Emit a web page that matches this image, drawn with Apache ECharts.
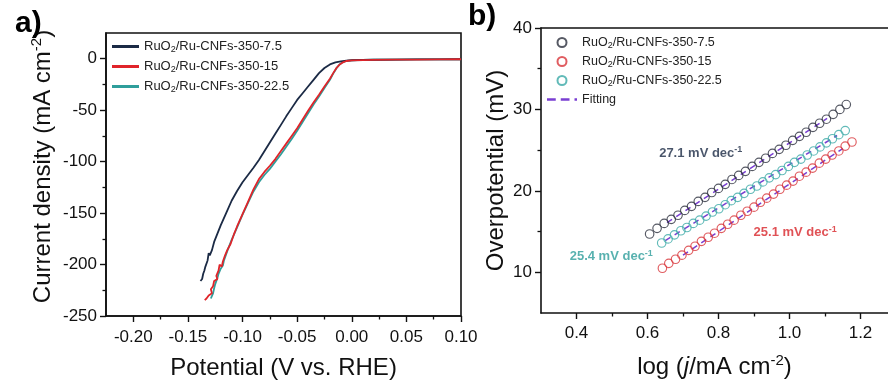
<!DOCTYPE html>
<html>
<head>
<meta charset="utf-8">
<script src="https://cdn.jsdelivr.net/npm/echarts@6/dist/echarts.min.js"></script>
<style>
  html, body { margin: 0; padding: 0; background: #fff; }
  #chart { width: 888px; height: 385px; }
</style>
</head>
<body>
<div id="chart"></div>
<script>
// panel a: LSV curves, [potential V vs RHE, current density mA cm-2]
const lsv75 = [[0.100, -0.5], [0.080, -0.6], [0.060, -0.7], [0.040, -0.8], [0.020, -1.0], [0.010, -1.2],
  [0.000, -1.5], [-0.005, -1.9], [-0.010, -2.6], [-0.015, -3.6], [-0.020, -5.5], [-0.025, -9.0],
  [-0.030, -14.0], [-0.035, -20.5], [-0.040, -27.0], [-0.045, -33.5], [-0.050, -40.0], [-0.055, -48.0],
  [-0.060, -56.0], [-0.065, -64.5], [-0.070, -73.0], [-0.075, -81.5], [-0.080, -90.0], [-0.085, -98.5],
  [-0.090, -106], [-0.095, -113], [-0.100, -120], [-0.105, -128.5], [-0.110, -138], [-0.115, -150],
  [-0.120, -162], [-0.123, -170], [-0.126, -178], [-0.128, -186], [-0.130, -191], [-0.131, -189],
  [-0.132, -196], [-0.134, -202], [-0.135, -206], [-0.136, -209], [-0.137, -214], [-0.1385, -216]];
const lsv15 = [[0.100, -0.5], [0.080, -0.6], [0.060, -0.8], [0.040, -0.9], [0.020, -1.1], [0.010, -1.3],
  [0.000, -1.6], [-0.005, -2.2], [-0.008, -3.5], [-0.011, -5.5], [-0.014, -9.0], [-0.017, -14.0],
  [-0.020, -19.5], [-0.025, -27.0], [-0.030, -35.0], [-0.035, -42.5], [-0.040, -50.5], [-0.045, -59.0],
  [-0.050, -67.5], [-0.055, -75.0], [-0.060, -82.5], [-0.065, -90.0], [-0.070, -97.5], [-0.075, -104],
  [-0.080, -110], [-0.085, -117], [-0.090, -127], [-0.095, -139], [-0.100, -151], [-0.105, -163],
  [-0.108, -171], [-0.111, -180], [-0.114, -186], [-0.116, -191], [-0.118, -197], [-0.119, -202],
  [-0.121, -200], [-0.122, -206], [-0.124, -211], [-0.123, -214], [-0.126, -216], [-0.127, -221],
  [-0.129, -224], [-0.128, -228], [-0.131, -230], [-0.133, -233], [-0.1346, -234.6]];
const lsv225 = [[0.100, -0.5], [0.060, -0.7], [0.020, -1.0], [0.000, -1.5], [-0.005, -2.1], [-0.008, -3.3],
  [-0.011, -5.4], [-0.014, -9.2], [-0.017, -14.5], [-0.020, -20.5], [-0.025, -28.5], [-0.030, -36.8],
  [-0.035, -44.5], [-0.040, -53.0], [-0.045, -61.5], [-0.050, -70.0], [-0.055, -78.0], [-0.060, -85.5],
  [-0.065, -93.0], [-0.070, -100], [-0.075, -107], [-0.080, -113], [-0.085, -120], [-0.090, -129],
  [-0.095, -140], [-0.100, -151.5], [-0.105, -164], [-0.110, -176], [-0.114, -187], [-0.117, -196],
  [-0.118, -201], [-0.120, -204], [-0.122, -209], [-0.123, -213], [-0.125, -219], [-0.126, -223],
  [-0.127, -228], [-0.129, -233]];

// panel b: Tafel plots, log(j) and overpotential (mV)
const tafelX75 = [0.606, 0.627, 0.647, 0.667, 0.686, 0.705, 0.724, 0.743, 0.762, 0.781, 0.800, 0.819, 0.838, 0.857, 0.876,
  0.895, 0.914, 0.933, 0.952, 0.971, 0.990, 1.009, 1.028, 1.047, 1.066, 1.085, 1.104, 1.123, 1.142, 1.160];
const tafelY75 = [14.7, 15.4, 16.0, 16.5, 17.0, 17.6, 18.1, 18.7, 19.2, 19.8, 20.3, 20.8, 21.4, 21.9, 22.4,
  23.0, 23.5, 24.0, 24.6, 25.1, 25.6, 26.2, 26.7, 27.2, 27.8, 28.3, 28.8, 29.4, 30.0, 30.6];
const tafelX15 = [0.642, 0.660, 0.679, 0.697, 0.716, 0.734, 0.752, 0.771, 0.789, 0.808, 0.826, 0.844, 0.863, 0.881, 0.900,
  0.918, 0.936, 0.955, 0.973, 0.992, 1.010, 1.028, 1.047, 1.065, 1.084, 1.102, 1.120, 1.139, 1.157, 1.176];
const tafelY15 = [10.5, 11.1, 11.6, 12.1, 12.7, 13.2, 13.8, 14.3, 14.8, 15.4, 15.9, 16.4, 17.0, 17.5, 18.0,
  18.6, 19.1, 19.6, 20.2, 20.7, 21.2, 21.8, 22.3, 22.8, 23.4, 23.9, 24.4, 24.9, 25.5, 26.0];
const tafelX225 = [0.640, 0.658, 0.676, 0.694, 0.711, 0.729, 0.747, 0.765, 0.783, 0.801, 0.819, 0.836, 0.854, 0.872, 0.890,
  0.908, 0.925, 0.943, 0.961, 0.979, 0.997, 1.014, 1.032, 1.050, 1.068, 1.086, 1.104, 1.121, 1.139, 1.157];
const tafelY225 = [13.6, 14.1, 14.6, 15.1, 15.5, 16.0, 16.4, 16.9, 17.4, 17.8, 18.3, 18.8, 19.2, 19.7, 20.2,
  20.6, 21.1, 21.6, 22.0, 22.5, 23.0, 23.5, 23.9, 24.4, 24.9, 25.4, 25.9, 26.4, 26.9, 27.4];

// fitted lines (end points)
const fit75 = [[0.655, 16.1], [1.106, 28.9]];
const fit15 = [[0.700, 12.1], [1.150, 25.2]];
const fit225 = [[0.650, 13.9], [1.134, 26.8]];

// slope annotations, anchored in data coordinates of panel b
const slopeText = ['27.1', '25.1', '25.4'];
const slopeAt = [[0.750, 24.6], [1.016, 14.85], [0.498, 11.9]];

// ticks
const ticksAX = [-0.2, -0.15, -0.1, -0.05, 0, 0.05, 0.1];
const minorAX = [-0.175, -0.125, -0.075, -0.025, 0.025, 0.075];
const ticksAY = [-250, -200, -150, -100, -50, 0];
const minorAY = [-225, -175, -125, -75, -25];
const ticksBX = [0.4, 0.6, 0.8, 1.0, 1.2];
const minorBX = [0.5, 0.7, 0.9, 1.1];
const ticksBY = [10, 20, 30, 40];
const minorBY = [15, 25, 35];

const labels = { '7.5': 'RuO2/Ru-CNFs-350-7.5', '15': 'RuO2/Ru-CNFs-350-15', '22.5': 'RuO2/Ru-CNFs-350-22.5' };
const colA = { '7.5': '#1b2a45', '15': '#e0242a', '22.5': '#2f9e9b' };
const colB = { '7.5': '#2c2f3d', '15': '#d8343a', '22.5': '#3aa9a6' };
const fitColor = '#7a3fd2';

const FONT = 'Liberation Sans, Arial, sans-serif';
const zip = (xs, ys) => xs.map((x, i) => [x, ys[i]]);

const legendFmt = (name) => {
  if (name === 'Fitting') return '{m|Fitting}';
  const key = name.split('-')[1];
  return '{m|RuO}{s|2}{m|' + labels[key].slice(4) + '}';
};

const majorAxis = (gridIndex, position, min, max, ticks, fmt, margin, name, nameGap, extra) => ({
  gridIndex, position, min, max, type: 'value', name, nameGap,
  nameLocation: 'middle',
  nameTextStyle: {
    fontFamily: FONT, fontSize: 24, color: '#111',
    rich: {
      m: { fontFamily: FONT, fontSize: 24, lineHeight: 28, color: '#111' },
      i: { fontFamily: FONT, fontSize: 24, lineHeight: 28, fontStyle: 'italic', color: '#111' },
      p: { fontFamily: FONT, fontSize: 15, verticalAlign: 'top', color: '#111' },
    },
    ...(extra || {}),
  },
  axisLine: { show: true, onZero: false, lineStyle: { color: '#111', width: 1.6 } },
  axisTick: { show: true, inside: false, length: 6, customValues: ticks, lineStyle: { color: '#111', width: 1.4 } },
  axisLabel: { show: true, customValues: ticks, formatter: fmt, margin, fontFamily: FONT, fontSize: 17, color: '#111' },
  splitLine: { show: false },
});

const minorAxis = (gridIndex, position, min, max, ticks) => ({
  gridIndex, position, min, max, type: 'value',
  axisLine: { show: false, onZero: false },
  axisTick: { show: true, inside: false, length: 3.5, customValues: ticks, lineStyle: { color: '#111', width: 1.3 } },
  axisLabel: { show: false, customValues: ticks },
  splitLine: { show: false },
});

const borderAxis = (gridIndex, position, min, max) => ({
  gridIndex, position, min, max, type: 'value',
  axisLine: { show: true, onZero: false, lineStyle: { color: '#111', width: 1.6 } },
  axisTick: { show: false }, axisLabel: { show: false }, splitLine: { show: false },
});

const chart = echarts.init(document.getElementById('chart'), null, { renderer: 'canvas' });

const lineA = (key, data) => ({
  name: 'a-' + key, type: 'line', xAxisIndex: 0, yAxisIndex: 0, data,
  symbol: 'none', lineStyle: { color: colA[key], width: 1.8 }, itemStyle: { color: colA[key] },
});
const scatterB = (key, xs, ys) => ({
  name: 'b-' + key, type: 'scatter', xAxisIndex: 2, yAxisIndex: 2, data: zip(xs, ys), z: 4,
  symbol: 'circle', symbolSize: 8.5,
  itemStyle: { color: 'rgba(255,255,255,0)', borderColor: colB[key], borderWidth: 1.15 },
});
const fitB = (data) => ({
  name: 'Fitting', type: 'line', xAxisIndex: 2, yAxisIndex: 2, data, z: 3,
  symbol: 'none', lineStyle: { color: fitColor, width: 1.5, type: [6, 5] }, itemStyle: { color: fitColor },
});

const slopeColors = [colA['7.5'], '#d8262b', '#2e9e9b'];
const dashIcon = 'path://M0,0h7v2h-7z M11,0h7v2h-7z M22,0h2v2h-2z';
const xMaxB = 1.2775;

chart.setOption({
  animation: false,
  backgroundColor: '#fff',
  title: [
    { text: 'a)', left: 10, top: 4, textStyle: { fontFamily: FONT, fontSize: 30, fontWeight: 'bold', color: '#000' } },
    { text: 'b)', left: 463, top: -3, textStyle: { fontFamily: FONT, fontSize: 30, fontWeight: 'bold', color: '#000' } },
  ],
  grid: [
    { left: 106, top: 33, width: 355, height: 285, show: true, borderColor: '#111', borderWidth: 1.6, backgroundColor: 'transparent' },
    { left: 541, top: 28, width: 347, height: 285 },
  ],
  legend: [
    {
      left: 112, top: 40, padding: 0, orient: 'vertical', itemWidth: 27, itemHeight: 3, itemGap: 5.5,
      icon: 'rect',
      data: ['a-7.5', 'a-15', 'a-22.5'], formatter: legendFmt, selectedMode: false,
      textStyle: {
        fontFamily: FONT, fontSize: 13, color: '#222',
        rich: {
          m: { fontFamily: FONT, fontSize: 13, lineHeight: 16, color: '#222' },
          s: { fontFamily: FONT, fontSize: 9, verticalAlign: 'bottom', color: '#222' },
        },
      },
    },
    {
      left: 547, top: 36, padding: 0, orient: 'vertical', itemWidth: 30, itemHeight: 9, itemGap: 4.5,
      data: ['b-7.5', 'b-15', 'b-22.5', { name: 'Fitting', icon: dashIcon }],
      formatter: legendFmt, selectedMode: false,
      textStyle: {
        fontFamily: FONT, fontSize: 12.5, color: '#222',
        rich: {
          m: { fontFamily: FONT, fontSize: 12.5, lineHeight: 16, color: '#222' },
          s: { fontFamily: FONT, fontSize: 9, verticalAlign: 'bottom', color: '#222' },
        },
      },
    },
  ],
  xAxis: [
    majorAxis(0, 'bottom', -0.225, 0.1, ticksAX, (v) => v.toFixed(2), 13, '{m|Potential (V vs. RHE)}', 38),
    minorAxis(0, 'bottom', -0.225, 0.1, minorAX),
    majorAxis(1, 'bottom', 0.3, xMaxB, ticksBX, (v) => v.toFixed(1), 12, '{m|log (}{i|j}{m|/mA cm}{p|-2}{m|)}', 40),
    minorAxis(1, 'bottom', 0.3, xMaxB, minorBX),
    borderAxis(1, 'top', 0.3, xMaxB),
  ],
  yAxis: [
    majorAxis(0, 'left', -250, 25, ticksAY, (v) => String(v), 9, '{m|Current density (mA cm}{p|-2}{m|)}', 49, { padding: [0, 0, 0, 16] }),
    minorAxis(0, 'left', -250, 25, minorAY),
    majorAxis(1, 'left', 5, 40, ticksBY, (v) => String(v), 9, '{m|Overpotential (mV)}', 31),
    minorAxis(1, 'left', 5, 40, minorBY),
  ],
  series: [
    lineA('22.5', lsv225),
    lineA('7.5', lsv75),
    lineA('15', lsv15),
    fitB(fit75),
    fitB(fit15),
    fitB(fit225),
    scatterB('7.5', tafelX75, tafelY75),
    scatterB('15', tafelX15, tafelY15),
    scatterB('22.5', tafelX225, tafelY225),
    {
      name: 'slopes', type: 'scatter', xAxisIndex: 2, yAxisIndex: 2, symbolSize: 0, silent: true,
      data: slopeAt,
      label: {
        show: true, position: 'inside',
        formatter: (p) => '{t' + p.dataIndex + '|' + slopeText[p.dataIndex] + ' mV dec}{s' + p.dataIndex + '|-1}',
        rich: Object.fromEntries(slopeColors.flatMap((c, i) => [
          ['t' + i, { fontFamily: FONT, fontSize: 13, fontWeight: 'bold', color: c, lineHeight: 16 }],
          ['s' + i, { fontFamily: FONT, fontSize: 9, fontWeight: 'bold', color: c, verticalAlign: 'top' }],
        ])),
      },
    },
  ],
});
</script>
</body>
</html>
